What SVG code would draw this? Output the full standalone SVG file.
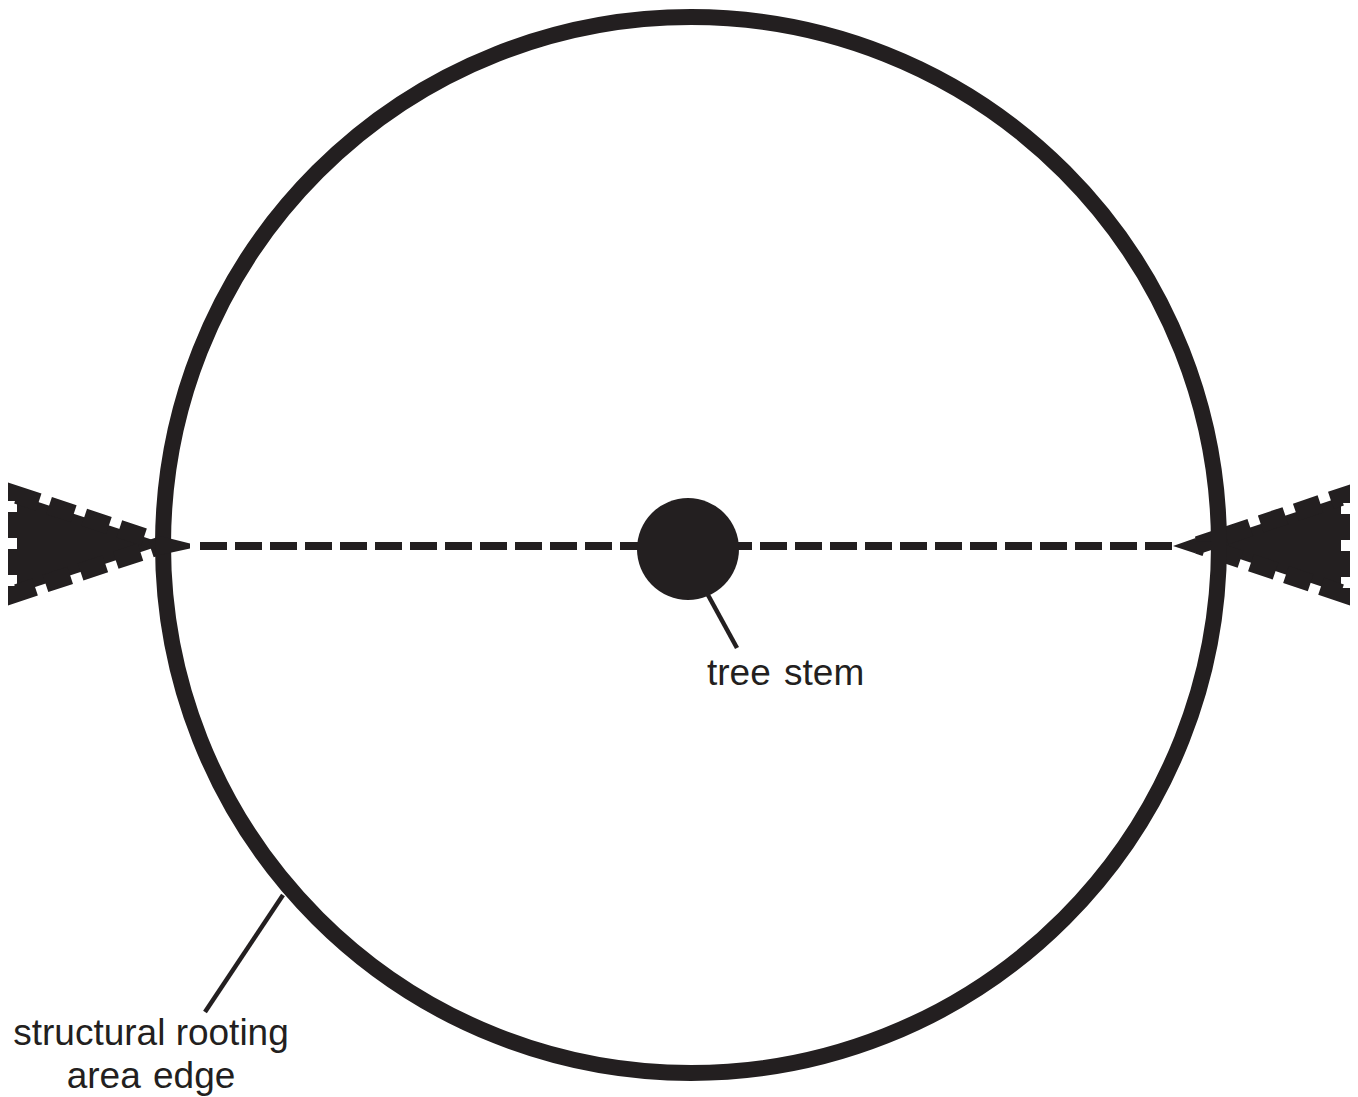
<svg xmlns="http://www.w3.org/2000/svg" width="1358" height="1097" viewBox="0 0 1358 1097">
<style>
.ink{fill:#231f20}
.lbl{font-family:"Liberation Sans",Arial,sans-serif;font-size:37px;fill:#231f20}
.leader{stroke:#231f20;stroke-width:4.5;fill:none}
.tri{fill:#231f20;stroke:#231f20;stroke-width:18;stroke-linejoin:miter;stroke-miterlimit:2;stroke-dasharray:26 11;stroke-dashoffset:20}
</style>
<rect width="1358" height="1097" fill="#ffffff"/>
<g id="left-pointer">
<polygon class="tri" points="17,495 17,593 165,544"/>
</g>
<g id="right-pointer">
<polygon class="tri" points="1341,497 1341,593 1198,545"/>
</g>
<g id="rooting-area">
<circle cx="691" cy="545" r="528" fill="none" stroke="#231f20" stroke-width="16"/>
</g>
<g id="connectors">
<line x1="200" y1="546" x2="1173" y2="546" stroke="#231f20" stroke-width="8" stroke-dasharray="27 8"/>
<polygon class="ink" points="160,536 190,543.5 190,548.5 160,555"/>
<polygon class="ink" points="1173,546 1195,538.3 1197,541.7 1212,541.7 1212,550 1197,550 1195,553.3"/>
<line class="leader" x1="708" y1="595" x2="737" y2="648"/>
<line class="leader" x1="283" y1="895" x2="205" y2="1012"/>
</g>
<g id="tree-stem">
<circle class="ink" cx="688" cy="549" r="51"/>
<text class="lbl" x="707" y="685" word-spacing="3">tree stem</text>
</g>
<g id="edge-label">
<text class="lbl" x="151" y="1045" text-anchor="middle">structural rooting</text>
<text class="lbl" x="151" y="1088" text-anchor="middle" word-spacing="2">area edge</text>
</g>
</svg>
